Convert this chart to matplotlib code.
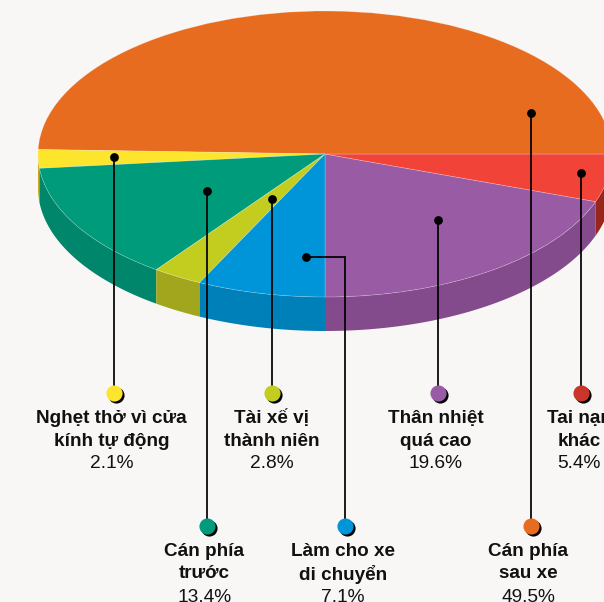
import numpy as np
import matplotlib
matplotlib.use("Agg")
import matplotlib.pyplot as plt
from matplotlib.patches import Polygon

# --------------------------------------------------
# Data
# --------------------------------------------------

names = [
    "Thân nhiệt\nquá cao",
    "Tai nạn\nkhác",
    "Cán phía\nsau xe",
    "Nghẹt thở vì cửa\nkính tự động",
    "Cán phía\ntrước",
    "Tài xế vị\nthành niên",
    "Làm cho xe\ndi chuyển",
]
shares = [19.6, 5.4, 49.5, 2.1, 13.4, 2.8, 7.1]

# --------------------------------------------------
# Style and layout (pixels of the 604x602 picture)
# --------------------------------------------------

BACKGROUND = "#f8f7f6"
top_colors = ["#9a5ba5", "#f14338", "#e86c20", "#fde42d", "#009b7b", "#c2cd20", "#0095d9"]
side_colors = ["#834b8b", "#99261a", "#b5531a", "#c9a91e", "#00866a", "#a2a61c", "#0080b8"]
dot_colors = ["#9a5ba5", "#c9352b", "#e86c20", "#fde42d", "#009b7b", "#c2cd20", "#0095d9"]

W, H = 604, 602
CX, CY, RX, RY, DEPTH = 325, 154, 287, 143, 34

# start of each leader on the pie, then the x, y of its end dot
anchors = [(438, 220), (581, 173), (531, 113), (114, 157), (207, 191), (272, 199), (306, 257)]
ends = [(438, 393), (581, 393), (531, 526), (114, 393), (207, 526), (272, 393), (345, 526)]
label_x = [435.5, 579, 528, 111.5, 204.5, 272, 343]

fig = plt.figure(figsize=(W / 100, H / 100), dpi=100, facecolor=BACKGROUND)

# --------------------------------------------------
# Pie: unit circle stretched to an ellipse by the axes
# --------------------------------------------------

pie_ax = fig.add_axes([(CX - RX) / W, 1 - (CY + RY) / H, 2 * RX / W, 2 * RY / H])

# printed shares add up to 99.9, so keep them as they are and close the small gap
wedges, _ = pie_ax.pie(
    [s / 100 for s in shares],
    colors=top_colors,
    startangle=270,
    counterclock=True,
    normalize=False,
    radius=1,
    wedgeprops={"edgecolor": (1, 1, 1, 0.3), "linewidth": 0.5},
)
wedges[-1].set_theta2(wedges[0].theta1 + 360)

pie_ax.set_aspect("auto")
pie_ax.set_xlim(-1, 1)
pie_ax.set_ylim(-1, 1)

# side wall, only the part of each slice facing the viewer
wall_height = 2 * DEPTH / (2 * RY)

for wedge, color in zip(wedges, side_colors):

    first = wedge.theta1 % 360
    start = max(first, 180)
    stop = min(first + (wedge.theta2 - wedge.theta1), 360)

    if stop <= start:
        continue

    t = np.radians(np.linspace(start, stop, 80))
    upper = np.column_stack([np.cos(t), np.sin(t)])
    lower = upper[::-1] - [0, wall_height]

    pie_ax.add_patch(
        Polygon(
            np.vstack([upper, lower]),
            closed=True,
            facecolor=color,
            edgecolor="none",
            zorder=0.5,
            clip_on=False,
        )
    )

for wedge in wedges:
    wedge.set_clip_on(False)

# --------------------------------------------------
# Leaders and labels, drawn in picture pixels
# --------------------------------------------------

ax = fig.add_axes([0, 0, 1, 1])
ax.set_xlim(0, W)
ax.set_ylim(H, 0)
ax.axis("off")
ax.patch.set_alpha(0)

for i in range(len(names)):

    x0, y0 = anchors[i]
    x1, y1 = ends[i]

    ax.plot([x0, x1, x1], [y0, y0, y1], color="black", lw=1.25, solid_joinstyle="miter", zorder=2)
    ax.scatter([x0], [y0], s=40, color="black", linewidths=0, zorder=3)

    # end dot with its hard shadow
    ax.scatter([x1 + 2], [y1 + 2], s=135, color="black", linewidths=0, zorder=3)
    ax.scatter([x1], [y1], s=135, color=dot_colors[i], linewidths=0, zorder=4)

    line_1, line_2 = names[i].split("\n")
    top = y1 + 25.5

    for text, offset in [(line_1, 0), (line_2, 22.5)]:
        ax.text(
            label_x[i],
            top + offset,
            text,
            ha="center",
            va="center",
            fontsize=13.6,
            fontweight="bold",
            family="Liberation Sans",
            color="#111111",
        )

    ax.text(
        label_x[i],
        top + 45.5,
        f"{shares[i]}%",
        ha="center",
        va="center",
        fontsize=13.8,
        family="Liberation Sans",
        color="#111111",
    )

fig.savefig("out.png", dpi=100, facecolor=BACKGROUND)
